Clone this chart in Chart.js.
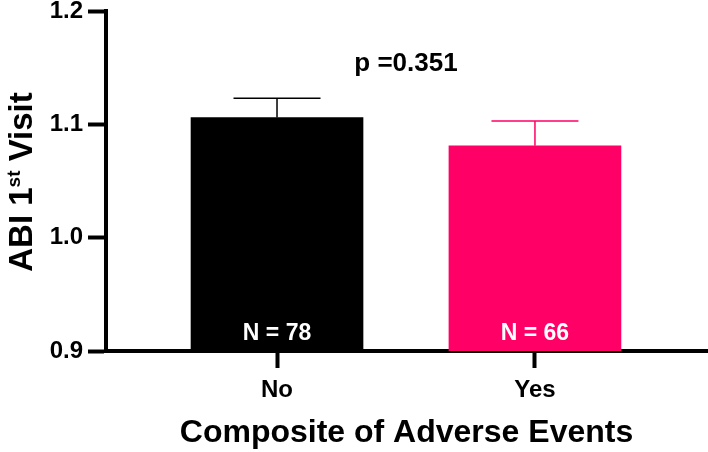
<!DOCTYPE html>
<html lang="en">
<head>
    <meta charset="UTF-8">
    <title>ABI 1st Visit</title>
    <script src="https://cdn.jsdelivr.net/npm/chart.js"></script>
    <style>
        body {
        margin: 0;
        padding: 0;
        background-color: white;
        }
        #wrap {
        width: 708px;
        height: 452px;
        }
    </style>
</head>
<body>
    <div id="wrap">
        <canvas id="abi-chart" width="708" height="452"></canvas>
    </div>

    <script>
        // data
        const categories = ["No", "Yes"];
        const means = [1.106, 1.081];
        const sems = [0.017, 0.022];
        const counts = [78, 66];
        const barColors = ["#000000", "#ff0066"];
        const yTicks = [0.9, 1.0, 1.1, 1.2];
        const pText = "p =0.351";

        const FONT = "'Liberation Sans', Arial, Helvetica, sans-serif";

        // error bars, N labels, p value and the y title (with superscript)
        const extrasPlugin = {
            id: "extras",
            afterDatasetsDraw(chart) {
                const ctx = chart.ctx;
                const xs = chart.scales.x;
                const ys = chart.scales.y;
                ctx.save();
                categories.forEach((c, i) => {
                    const x = xs.getPixelForValue(i);
                    const yBar = ys.getPixelForValue(means[i]);
                    const yTop = ys.getPixelForValue(means[i] + sems[i]);
                    ctx.strokeStyle = barColors[i];
                    ctx.lineWidth = 1.5;
                    ctx.beginPath();
                    ctx.moveTo(x, yBar);
                    ctx.lineTo(x, yTop);
                    ctx.moveTo(x - 43.5, yTop);
                    ctx.lineTo(x + 43.5, yTop);
                    ctx.stroke();

                    ctx.fillStyle = "#ffffff";
                    ctx.font = "bold 23px " + FONT;
                    ctx.textAlign = "center";
                    ctx.textBaseline = "alphabetic";
                    ctx.fillText("N = " + counts[i], x, ys.getPixelForValue(yTicks[0]) - 11);
                });

                // p value between the bars
                ctx.fillStyle = "#000000";
                ctx.font = "bold 26px " + FONT;
                ctx.textAlign = "center";
                ctx.fillText(pText, xs.getPixelForValue(0.5), chart.chartArea.top + 60);
                ctx.restore();
            },
            afterDraw(chart) {
                const ctx = chart.ctx;
                const area = chart.chartArea;
                const big = "bold 33px " + FONT;
                const small = "bold 19px " + FONT;
                const parts = [["ABI 1", big, 0], ["st", small, -12], [" Visit", big, 0]];
                ctx.save();
                let total = 0;
                parts.forEach(p => { ctx.font = p[1]; total += ctx.measureText(p[0]).width; });
                ctx.translate(32, (area.top + area.bottom) / 2 + 1);
                ctx.rotate(-Math.PI / 2);
                ctx.fillStyle = "#000000";
                ctx.textAlign = "left";
                ctx.textBaseline = "alphabetic";
                let x = -total / 2;
                parts.forEach(p => {
                    ctx.font = p[1];
                    ctx.fillText(p[0], x, p[2]);
                    x += ctx.measureText(p[0]).width;
                });
                ctx.restore();
            }
        };

        const ctx = document.getElementById("abi-chart").getContext("2d");
        const abiChart = new Chart(ctx, {
            type: "bar",
            data: {
                datasets: [{
                    data: means.map((m, i) => ({ x: i, y: m })),
                    backgroundColor: barColors,
                    borderWidth: 0,
                    barThickness: 172
                }]
            },
            options: {
                responsive: false,
                animation: false,
                layout: {
                    padding: { top: 11, right: 1, left: 0, bottom: 0 }
                },
                plugins: {
                    legend: { display: false },
                    tooltip: { enabled: false }
                },
                scales: {
                    x: {
                        type: "linear",
                        offset: false,
                        min: -0.663,
                        max: 1.667,
                        afterBuildTicks: (scale) => {
                            scale.ticks = categories.map((c, i) => ({ value: i }));
                        },
                        afterFit: (scale) => {
                            scale.height = 101;
                            scale.paddingLeft = 0;
                            scale.paddingRight = 0;
                        },
                        ticks: {
                            callback: (v) => categories[v],
                            color: "#000000",
                            font: { family: FONT, size: 24, weight: "bold" },
                            padding: 8,
                            maxRotation: 0
                        },
                        grid: {
                            offset: false,
                            drawOnChartArea: false,
                            drawTicks: true,
                            tickLength: 17,
                            tickWidth: 4,
                            tickColor: "#000000"
                        },
                        border: { display: true, width: 4, color: "#000000" },
                        title: {
                            display: true,
                            text: "Composite of Adverse Events",
                            color: "#000000",
                            font: { family: FONT, size: 32, weight: "bold" },
                            padding: { top: 0, bottom: 0 }
                        }
                    },
                    y: {
                        min: yTicks[0],
                        max: yTicks[yTicks.length - 1],
                        afterBuildTicks: (scale) => {
                            scale.ticks = yTicks.map(v => ({ value: v }));
                        },
                        afterFit: (scale) => {
                            scale.width = 106;
                            scale.paddingTop = 0;
                            scale.paddingBottom = 0;
                        },
                        ticks: {
                            callback: (v) => Number(v).toFixed(1),
                            color: "#000000",
                            font: { family: FONT, size: 24, weight: "bold" },
                            padding: 5
                        },
                        grid: {
                            drawOnChartArea: false,
                            drawTicks: true,
                            tickLength: 18,
                            tickWidth: 4,
                            tickColor: "#000000"
                        },
                        border: { display: true, width: 4, color: "#000000" }
                    }
                }
            },
            plugins: [extrasPlugin]
        });
    </script>
</body>
</html>
